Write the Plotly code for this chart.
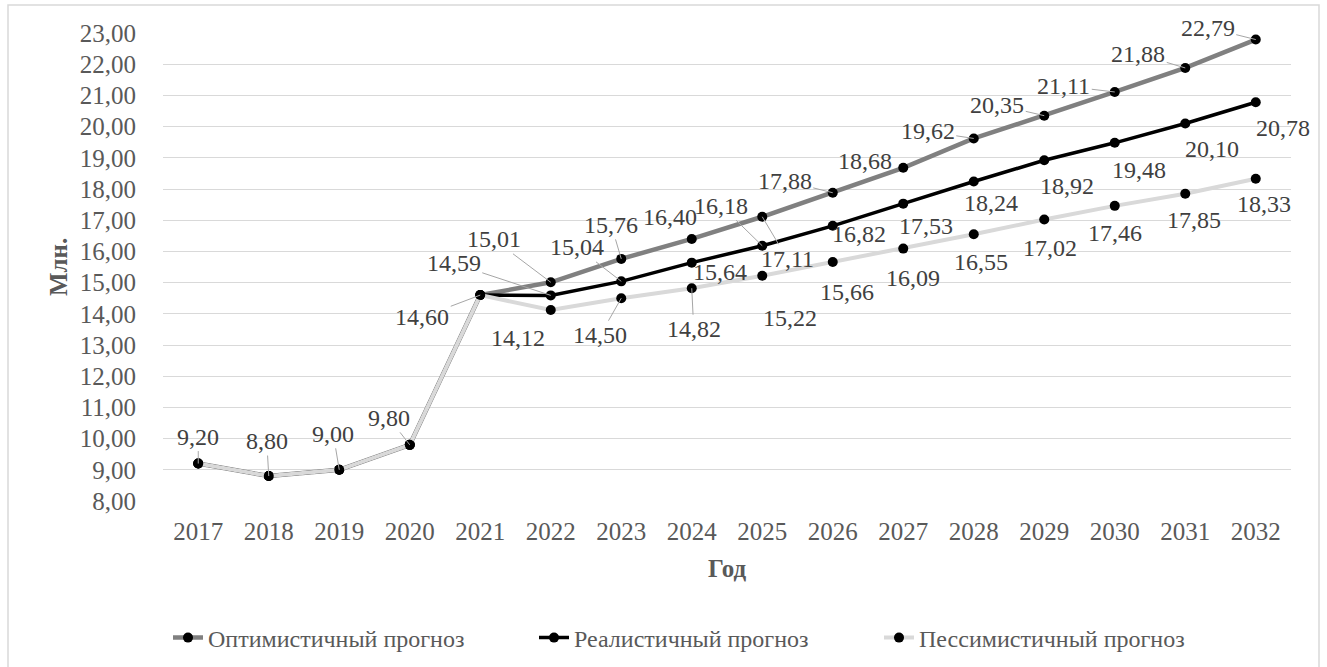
import plotly.graph_objects as go

# ---- data -------------------------------------------------------------
years = [str(y) for y in range(2017, 2033)]
history = [9.20, 8.80, 9.00, 9.80, 14.60]                       # 2017-2021
optimistic = [15.01, 15.76, 16.40, 17.11, 17.88, 18.68, 19.62, 20.35, 21.11, 21.88, 22.79]
realistic = [14.59, 15.04, 15.64, 16.18, 16.82, 17.53, 18.24, 18.92, 19.48, 20.10, 20.78]
pessimistic = [14.12, 14.50, 14.82, 15.22, 15.66, 16.09, 16.55, 17.02, 17.46, 17.85, 18.33]
y_ticks = list(range(8, 24))

series_names = ["Оптимистичный прогноз", "Реалистичный прогноз", "Пессимистичный прогноз"]

# ---- label placement (pixel offsets of label centre from its point, leader on/off) ----
hist_offsets = [(0, -27, True), (-2, -35, True), (-6, -36, True), (-21, -27, True), (-58, 22, True)]
opt_offsets = [(-57, -43, True), (-10, -34, True), (-22, -22, False), (25, 42, True),
               (-48, -12, True), (-38, -7, False), (-46, -7, True), (-47, -11, True),
               (-51, -6, True), (-47, -14, True), (-48, -12, True)]
real_offsets = [(-97, -32, True), (-44, -34, True), (28, 9, False), (-41, -40, True),
                (26, 8, False), (23, 22, False), (17, 21, False), (23, 26, False),
                (24, 27, False), (27, 26, False), (27, 26, False)]
pess_offsets = [(-33, 28, False), (-21, 37, True), (2, 41, True), (28, 42, True),
                (14, 30, False), (10, 29, False), (7, 28, False), (6, 28, False),
                (0, 27, False), (9, 26, False), (8, 25, False)]

FONT = "Liberation Serif"
LABEL_COLOR = "#404040"
TICK_COLOR = "#595959"
LEADER_COLOR = "#a6a6a6"

W, H = 1327, 667
ML, MR, MT, MB = 163, 36, 33, 166
PW, PH = W - ML - MR, H - MT - MB


def px_x(p):
    return (p - ML) / PW


def px_y(p):
    return (H - MB - p) / PH


fig = go.Figure()

styles = [
    ("#808080", 4.5),
    ("#000000", 3.5),
    ("#d9d9d9", 4.0),
]
legend_ids = ["legend", "legend2", "legend3"]
legend_left_px = [168, 534, 879]

for name, forecast, (color, width), lg in zip(series_names, [optimistic, realistic, pessimistic],
                                              styles, legend_ids):
    fig.add_trace(go.Scatter(
        x=years, y=history + forecast, name=name, mode="lines+markers",
        line=dict(color=color, width=width),
        marker=dict(color="#000000", size=10),
        legend=lg,
    ))


def fmt(v):
    return f"{v:.2f}".replace(".", ",")


annotations = []


def add_labels(first_idx, vals, offsets):
    # category axis: annotation x is the serial index of the year
    for k, (v, (dx, dy, leader)) in enumerate(zip(vals, offsets)):
        annotations.append(dict(
            x=first_idx + k, y=v, xref="x", yref="y", text=fmt(v),
            showarrow=True, ax=dx, ay=dy, arrowhead=0, arrowwidth=1,
            arrowcolor=LEADER_COLOR if leader else "rgba(0,0,0,0)",
            font=dict(family=FONT, size=24, color=LABEL_COLOR),
        ))


add_labels(0, history, hist_offsets)
add_labels(5, optimistic, opt_offsets)
add_labels(5, realistic, real_offsets)
add_labels(5, pessimistic, pess_offsets)

# axis titles
annotations.append(dict(
    x=0, y=0.5, xref="paper", yref="paper", xanchor="center", yanchor="middle",
    xshift=-105, text="<b>Млн.</b>", textangle=-90, showarrow=False,
    font=dict(family=FONT, size=25, color=TICK_COLOR),
))
annotations.append(dict(
    x=0.5, y=0, xref="paper", yref="paper", xanchor="center", yanchor="middle",
    yshift=-67, text="<b>Год</b>", showarrow=False,
    font=dict(family=FONT, size=25, color=TICK_COLOR),
))

legend_style = dict(orientation="h", xanchor="left", y=px_y(638), yanchor="middle",
                    font=dict(family=FONT, size=24, color=TICK_COLOR),
                    itemwidth=30, bgcolor="rgba(0,0,0,0)")
legends = {lg: dict(legend_style, x=px_x(xp)) for lg, xp in zip(legend_ids, legend_left_px)}

fig.update_layout(
    width=W, height=H,
    margin=dict(l=ML, r=MR, t=MT, b=MB, autoexpand=False),
    paper_bgcolor="white", plot_bgcolor="white",
    separators=", ",
    font=dict(family=FONT, color=TICK_COLOR),
    annotations=annotations,
    # outer chart border
    shapes=[dict(type="rect", xref="paper", yref="paper",
                 x0=px_x(8), x1=px_x(1319), y0=px_y(700), y1=px_y(5),
                 line=dict(color="#d9d9d9", width=1.5), layer="below")],
    showlegend=True,
    xaxis=dict(type="category", categoryorder="array", categoryarray=years,
               range=[-0.5, len(years) - 0.5], showgrid=False, showline=False, zeroline=False,
               ticks="outside", ticklen=8, tickcolor="rgba(0,0,0,0)",
               tickfont=dict(family=FONT, size=25, color=TICK_COLOR)),
    yaxis=dict(range=[8, 23], tickvals=y_ticks, tickformat=".2f",
               showgrid=True, gridcolor="#d9d9d9", gridwidth=1.3,
               showline=False, zeroline=False,
               ticks="outside", ticklen=21, tickcolor="rgba(0,0,0,0)",
               tickfont=dict(family=FONT, size=25, color=TICK_COLOR)),
    **legends,
)

fig.write_html("out.html")
